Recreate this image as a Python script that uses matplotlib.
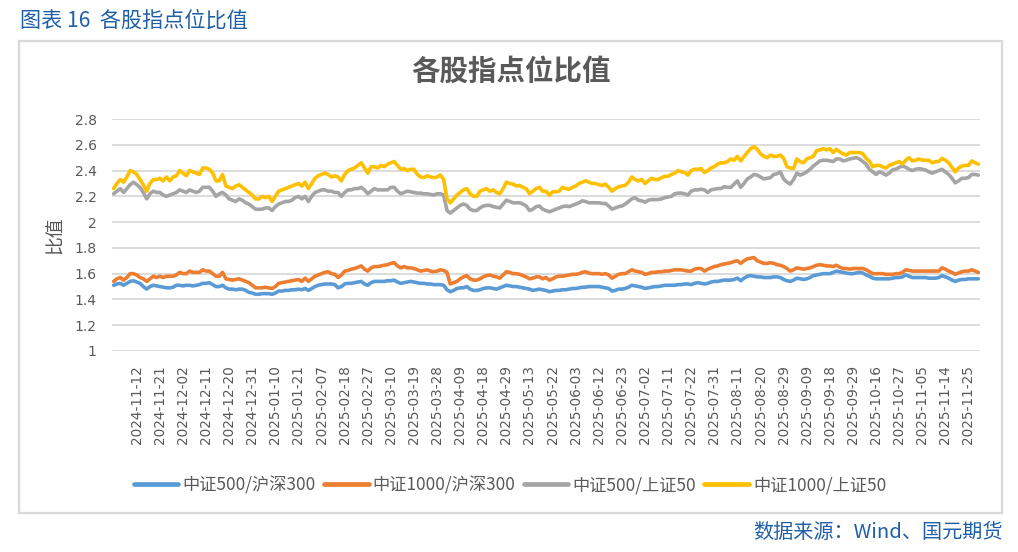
import matplotlib
matplotlib.use("Agg")
import matplotlib.pyplot as plt
from matplotlib.patches import Rectangle
from matplotlib.lines import Line2D

plt.rcParams['font.family'] = ['Noto Sans CJK SC', 'DejaVu Sans']

# ---------------- data ----------------
tick_labels = ["2024-11-12", "2024-11-21", "2024-12-02", "2024-12-11", "2024-12-20", "2024-12-31",
               "2025-01-10", "2025-01-21", "2025-02-07", "2025-02-18", "2025-02-27", "2025-03-10",
               "2025-03-19", "2025-03-28", "2025-04-09", "2025-04-18", "2025-04-29", "2025-05-13",
               "2025-05-22", "2025-06-03", "2025-06-12", "2025-06-23", "2025-07-02", "2025-07-11",
               "2025-07-22", "2025-07-31", "2025-08-11", "2025-08-20", "2025-08-29", "2025-09-09",
               "2025-09-18", "2025-09-29", "2025-10-16", "2025-10-27", "2025-11-05", "2025-11-14",
               "2025-11-25"]

series_names = ["中证500/沪深300", "中证1000/沪深300", "中证500/上证50", "中证1000/上证50"]

zz500_hs300 = [
    1.51, 1.52, 1.525, 1.51, 1.525, 1.54, 1.545, 1.535, 1.525, 1.50,
    1.48, 1.50, 1.51, 1.505, 1.50, 1.495, 1.49, 1.49, 1.495, 1.51,
    1.51, 1.505, 1.51, 1.51, 1.505, 1.51, 1.515, 1.525, 1.525, 1.53,
    1.515, 1.50, 1.50, 1.51, 1.49, 1.48, 1.48, 1.475, 1.48, 1.48,
    1.47, 1.455, 1.45, 1.44, 1.44, 1.445, 1.445, 1.445, 1.44, 1.45,
    1.465, 1.465, 1.47, 1.47, 1.475, 1.475, 1.48, 1.475, 1.485, 1.47,
    1.485, 1.50, 1.51, 1.515, 1.52, 1.52, 1.52, 1.515, 1.49, 1.50,
    1.52, 1.525, 1.525, 1.53, 1.535, 1.54, 1.52, 1.51, 1.53, 1.54,
    1.54, 1.54, 1.54, 1.545, 1.545, 1.55, 1.535, 1.525, 1.53, 1.535,
    1.54, 1.535, 1.53, 1.525, 1.525, 1.52, 1.52, 1.515, 1.515, 1.515,
    1.51, 1.475, 1.46, 1.47, 1.485, 1.49, 1.49, 1.50, 1.48, 1.47,
    1.47, 1.475, 1.485, 1.49, 1.49, 1.485, 1.48, 1.49, 1.50, 1.51,
    1.505, 1.50, 1.50, 1.495, 1.49, 1.485, 1.48, 1.47, 1.475, 1.48,
    1.475, 1.47, 1.46, 1.465, 1.47, 1.47, 1.475, 1.475, 1.48, 1.485,
    1.485, 1.49, 1.495, 1.495, 1.50, 1.50, 1.50, 1.50, 1.495, 1.49,
    1.485, 1.465, 1.47, 1.48, 1.48, 1.485, 1.495, 1.51, 1.505, 1.50,
    1.495, 1.485, 1.49, 1.495, 1.50, 1.50, 1.505, 1.51, 1.51, 1.51,
    1.51, 1.515, 1.515, 1.52, 1.52, 1.515, 1.525, 1.53, 1.525, 1.52,
    1.525, 1.535, 1.54, 1.54, 1.545, 1.55, 1.55, 1.55, 1.555, 1.565,
    1.545, 1.565, 1.58, 1.585, 1.58, 1.575, 1.575, 1.57, 1.57, 1.57,
    1.575, 1.575, 1.57, 1.555, 1.545, 1.54, 1.55, 1.565, 1.56, 1.555,
    1.56, 1.57, 1.585, 1.59, 1.595, 1.60, 1.60, 1.60, 1.61, 1.62,
    1.615, 1.61, 1.605, 1.60, 1.60, 1.605, 1.61, 1.605, 1.59, 1.58,
    1.565, 1.56, 1.56, 1.56, 1.56, 1.56, 1.565, 1.57, 1.57, 1.575,
    1.59, 1.58, 1.57, 1.57, 1.57, 1.57, 1.57, 1.565, 1.565, 1.565,
    1.57, 1.585, 1.575, 1.565, 1.55, 1.54, 1.55, 1.555, 1.555, 1.56,
    1.56, 1.56, 1.56]

zz1000_hs300 = [
    1.54, 1.56, 1.57, 1.55, 1.57, 1.60, 1.60, 1.59, 1.57, 1.56,
    1.54, 1.56, 1.58, 1.57, 1.58, 1.57, 1.58, 1.58, 1.58, 1.59,
    1.61, 1.60, 1.60, 1.62, 1.61, 1.61, 1.61, 1.63, 1.62, 1.62,
    1.60, 1.58, 1.58, 1.61, 1.56, 1.555, 1.55, 1.555, 1.56, 1.55,
    1.54, 1.53, 1.51, 1.49, 1.49, 1.49, 1.495, 1.49, 1.485, 1.50,
    1.525, 1.53, 1.535, 1.54, 1.545, 1.55, 1.555, 1.54, 1.565, 1.54,
    1.56, 1.58, 1.59, 1.60, 1.61, 1.615, 1.60, 1.595, 1.57, 1.59,
    1.62, 1.625, 1.635, 1.64, 1.65, 1.66, 1.635, 1.62, 1.645, 1.655,
    1.655, 1.66, 1.665, 1.67, 1.68, 1.685, 1.66, 1.645, 1.655, 1.645,
    1.645, 1.64, 1.63, 1.62, 1.625, 1.63, 1.62, 1.615, 1.62, 1.63,
    1.625, 1.61, 1.52, 1.53, 1.54, 1.56, 1.575, 1.585, 1.56, 1.55,
    1.55, 1.56, 1.575, 1.585, 1.59, 1.58, 1.575, 1.565, 1.59, 1.615,
    1.61, 1.60, 1.60, 1.595, 1.585, 1.575, 1.56, 1.565, 1.575, 1.575,
    1.56, 1.57, 1.55, 1.56, 1.575, 1.58, 1.58, 1.585, 1.59, 1.595,
    1.595, 1.60, 1.61, 1.615, 1.605, 1.60, 1.60, 1.60, 1.595, 1.60,
    1.59, 1.565, 1.58, 1.595, 1.60, 1.60, 1.615, 1.63, 1.62, 1.615,
    1.61, 1.595, 1.60, 1.61, 1.61, 1.615, 1.615, 1.62, 1.62, 1.625,
    1.63, 1.63, 1.63, 1.625, 1.62, 1.62, 1.635, 1.64, 1.64, 1.62,
    1.635, 1.645, 1.655, 1.66, 1.67, 1.675, 1.68, 1.685, 1.695, 1.70,
    1.68, 1.70, 1.715, 1.72, 1.725, 1.70, 1.69, 1.68, 1.68, 1.685,
    1.68, 1.67, 1.665, 1.655, 1.64, 1.62, 1.63, 1.645, 1.64, 1.635,
    1.64, 1.645, 1.655, 1.665, 1.67, 1.665, 1.66, 1.66, 1.655, 1.665,
    1.65, 1.64, 1.64, 1.635, 1.64, 1.64, 1.64, 1.64, 1.63, 1.615,
    1.60, 1.60, 1.60, 1.60, 1.595, 1.595, 1.595, 1.60, 1.60, 1.61,
    1.63, 1.625, 1.62, 1.62, 1.62, 1.62, 1.62, 1.62, 1.62, 1.62,
    1.62, 1.645, 1.635, 1.62, 1.61, 1.595, 1.605, 1.615, 1.62, 1.62,
    1.63, 1.62, 1.61]

zz500_sz50 = [
    2.22, 2.24, 2.26, 2.23, 2.26, 2.29, 2.31, 2.29, 2.27, 2.23,
    2.18, 2.22, 2.24, 2.23, 2.23, 2.21, 2.20, 2.21, 2.22, 2.23,
    2.25, 2.24, 2.23, 2.25, 2.24, 2.23, 2.24, 2.27, 2.27, 2.27,
    2.24, 2.20, 2.22, 2.23, 2.21, 2.18, 2.17, 2.16, 2.18, 2.17,
    2.15, 2.14, 2.12, 2.10, 2.10, 2.10, 2.11, 2.11, 2.09, 2.12,
    2.14, 2.15, 2.16, 2.16, 2.17, 2.19, 2.20, 2.18, 2.20, 2.16,
    2.20, 2.23, 2.24, 2.25, 2.25, 2.24, 2.24, 2.23, 2.23, 2.20,
    2.23, 2.25, 2.25, 2.26, 2.26, 2.27, 2.25, 2.22, 2.24, 2.26,
    2.25, 2.25, 2.25, 2.25, 2.27, 2.27, 2.24, 2.22, 2.23, 2.24,
    2.235, 2.23, 2.225, 2.225, 2.22, 2.22, 2.215, 2.21, 2.22, 2.22,
    2.21, 2.09, 2.07, 2.09, 2.11, 2.13, 2.14, 2.13, 2.10, 2.09,
    2.09, 2.11, 2.125, 2.13, 2.13, 2.12, 2.115, 2.11, 2.14, 2.17,
    2.16, 2.15, 2.15, 2.15, 2.14, 2.125, 2.09, 2.10, 2.12, 2.125,
    2.10, 2.09, 2.08, 2.09, 2.10, 2.11, 2.12, 2.125, 2.12, 2.13,
    2.14, 2.15, 2.165, 2.16, 2.15, 2.15, 2.15, 2.15, 2.145, 2.145,
    2.125, 2.10, 2.11, 2.12, 2.125, 2.14, 2.16, 2.18, 2.19, 2.17,
    2.165, 2.155, 2.17, 2.175, 2.175, 2.175, 2.18, 2.19, 2.195, 2.20,
    2.22, 2.225, 2.225, 2.22, 2.21, 2.24, 2.25, 2.25, 2.255, 2.25,
    2.23, 2.25, 2.255, 2.26, 2.26, 2.275, 2.27, 2.27, 2.295, 2.32,
    2.27, 2.30, 2.335, 2.35, 2.37, 2.365, 2.35, 2.335, 2.34, 2.345,
    2.37, 2.375, 2.39, 2.335, 2.31, 2.295, 2.33, 2.38, 2.365, 2.375,
    2.39, 2.41, 2.435, 2.455, 2.475, 2.48, 2.48, 2.475, 2.47, 2.49,
    2.49, 2.475, 2.48, 2.49, 2.495, 2.50, 2.49, 2.47, 2.45, 2.41,
    2.39, 2.37, 2.39, 2.38, 2.365, 2.38, 2.405, 2.41, 2.425, 2.435,
    2.425, 2.41, 2.40, 2.41, 2.415, 2.41, 2.405, 2.39, 2.38, 2.39,
    2.40, 2.41, 2.39, 2.37, 2.34, 2.305, 2.32, 2.34, 2.34, 2.345,
    2.37, 2.37, 2.365]

zz1000_sz50 = [
    2.26, 2.30, 2.33, 2.31, 2.35, 2.40, 2.39, 2.37, 2.33, 2.29,
    2.24, 2.30, 2.33, 2.33, 2.34, 2.32, 2.35, 2.32, 2.35, 2.36,
    2.40, 2.38, 2.36, 2.40, 2.39, 2.38, 2.37, 2.42, 2.42, 2.41,
    2.38, 2.32, 2.32, 2.37, 2.28, 2.27, 2.26, 2.28, 2.29, 2.27,
    2.25, 2.23, 2.21, 2.18, 2.18, 2.20, 2.19, 2.20, 2.16, 2.20,
    2.24, 2.25, 2.26, 2.27, 2.28, 2.29, 2.30, 2.28, 2.31, 2.26,
    2.30, 2.34, 2.36, 2.37, 2.38, 2.37, 2.35, 2.36, 2.35, 2.32,
    2.37, 2.40, 2.41, 2.42, 2.44, 2.46, 2.42, 2.38, 2.43, 2.43,
    2.42, 2.44, 2.43, 2.45, 2.46, 2.47, 2.44, 2.41, 2.415, 2.40,
    2.41, 2.41, 2.37, 2.35, 2.345, 2.36, 2.35, 2.345, 2.35, 2.365,
    2.33, 2.18, 2.15, 2.18, 2.21, 2.23, 2.25, 2.26, 2.22, 2.20,
    2.20, 2.24, 2.25, 2.26, 2.24, 2.25, 2.23, 2.22, 2.26, 2.31,
    2.30, 2.295, 2.28, 2.285, 2.27, 2.26, 2.22, 2.24, 2.26, 2.27,
    2.24, 2.24, 2.21, 2.235, 2.235, 2.24, 2.27, 2.26, 2.255, 2.27,
    2.28, 2.30, 2.31, 2.32, 2.31, 2.30, 2.30, 2.29, 2.285, 2.295,
    2.27, 2.24, 2.26, 2.275, 2.28, 2.285, 2.31, 2.35, 2.33, 2.32,
    2.33, 2.30, 2.32, 2.34, 2.33, 2.33, 2.345, 2.355, 2.355, 2.37,
    2.38, 2.40, 2.39, 2.385, 2.365, 2.40, 2.41, 2.41, 2.415, 2.385,
    2.40, 2.42, 2.43, 2.45, 2.46, 2.46, 2.47, 2.49, 2.48, 2.51,
    2.475, 2.51, 2.54, 2.57, 2.585, 2.565, 2.53, 2.51, 2.50, 2.52,
    2.51, 2.51, 2.52, 2.495, 2.43, 2.42, 2.415, 2.49, 2.47, 2.46,
    2.49, 2.50, 2.51, 2.555, 2.56, 2.57, 2.56, 2.57, 2.54, 2.565,
    2.545, 2.53, 2.52, 2.54, 2.54, 2.54, 2.54, 2.53, 2.495, 2.47,
    2.43, 2.44, 2.44, 2.43, 2.42, 2.44, 2.45, 2.46, 2.47, 2.45,
    2.48, 2.50, 2.475, 2.48, 2.49, 2.48, 2.48, 2.48, 2.46, 2.47,
    2.47, 2.495, 2.48, 2.46, 2.425, 2.39, 2.42, 2.435, 2.44, 2.44,
    2.475, 2.46, 2.45]

y_ticks = [1, 1.2, 1.4, 1.6, 1.8, 2, 2.2, 2.4, 2.6, 2.8]

# ---------------- styling ----------------
colors = ["#5B9BD5", "#ED7D31", "#A5A5A5", "#FFC000"]
text_gray = "#595959"
blue_text = "#1F5FA8"

W, H = 1018, 552
fig = plt.figure(figsize=(W / 100, H / 100), dpi=100)

# outer frame
fig.patches.append(Rectangle((19 / W, 1 - 513 / H), (1002 - 19) / W, (513 - 41) / H,
                             transform=fig.transFigure, fill=False,
                             edgecolor="#D9D9D9", linewidth=1.6, zorder=0))

ax = fig.add_axes([112 / W, 1 - 351 / H, (980 - 112) / W, (351 - 119) / H])

all_series = [zz500_hs300, zz1000_hs300, zz500_sz50, zz1000_sz50]
for vals, c, name in zip(all_series, colors, series_names):
    ax.plot(range(len(vals)), vals, color=c, linewidth=2.6, label=name,
            solid_joinstyle="round", solid_capstyle="round", zorder=3)

n = len(zz500_hs300)
ax.set_xlim(-0.5, n - 0.5)
ax.set_ylim(1, 2.8)
ax.set_yticks(y_ticks)
ax.set_yticklabels([f"{v:g}" for v in y_ticks], family="DejaVu Sans", fontsize=10, color=text_gray)
ax.yaxis.grid(True, color="#D9D9D9", linewidth=1.3, zorder=0)
ax.set_axisbelow(True)

tick_pos = [7 + 7 * k for k in range(len(tick_labels))]
ax.set_xticks(tick_pos)
ax.set_xticklabels(tick_labels, rotation=90, family="DejaVu Sans", fontsize=9.8,
                   color=text_gray, va="top", ha="center")
ax.tick_params(axis="both", length=0)
ax.tick_params(axis="x", pad=10)
ax.tick_params(axis="y", pad=11)
for s in ax.spines.values():
    s.set_visible(False)

ax.set_ylabel("比值", fontsize=13.5, color=text_gray, labelpad=6)

# texts
fig.text(20 / W, 1 - 22 / H, "图表 16  各股指点位比值", fontsize=15.2, color=blue_text,
         ha="left", va="center")
fig.text(511 / W, 1 - 72 / H, "各股指点位比值", fontsize=20.5, fontweight="bold",
         color=text_gray, ha="center", va="center")
fig.text(1003 / W, 1 - 532 / H, "数据来源：Wind、国元期货", fontsize=14.5, color=blue_text,
         ha="right", va="center")

handles = [Line2D([0], [0], color=c, linewidth=3.4, solid_capstyle="round") for c in colors]
leg = fig.legend(handles, series_names, loc="center", bbox_to_anchor=(510 / W, 1 - 485 / H),
                 ncol=4, frameon=False, fontsize=12.4, handlelength=2.6, handletextpad=0.25,
                 columnspacing=0.45)
for t in leg.get_texts():
    t.set_color(text_gray)

fig.savefig("out.png", dpi=100)
